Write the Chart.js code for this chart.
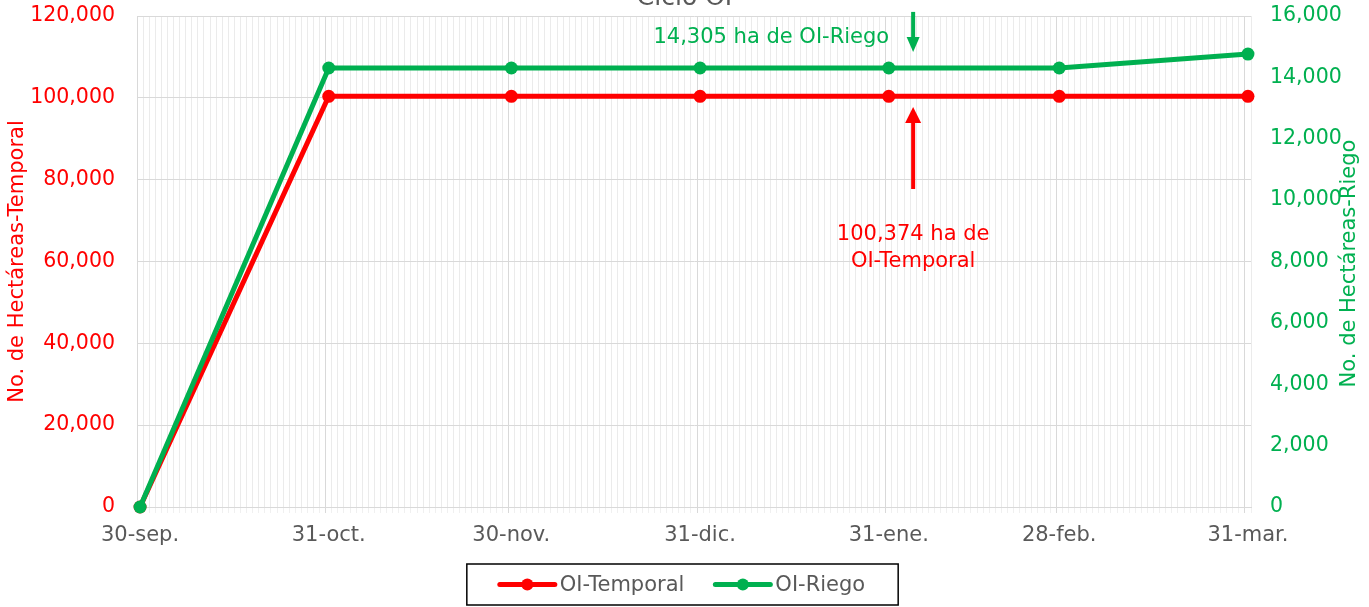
<!DOCTYPE html>
<html><head><meta charset="utf-8">
<script src="https://cdn.jsdelivr.net/npm/chart.js@4.4.0/dist/chart.umd.min.js"></script>
<style>html,body{margin:0;padding:0;background:#fff;} canvas{display:block;}</style>
</head><body>
<canvas id="c" width="1369" height="607"></canvas>
<script>
// ---- data ----
const categories = ['30-sep.','31-oct.','30-nov.','31-dic.','31-ene.','28-feb.','31-mar.'];
const dayOffsets = [0,31,61,92,123,151,182];   // days after 30-sep
const totalDays = 183;
const temporal = [0,100374,100374,100374,100374,100374,100374];
const riego = [0,14305,14305,14305,14305,14305,14760];
const seriesNames = ['OI-Temporal','OI-Riego'];
const leftRange = [0,120000,20000];
const rightRange = [0,16000,2000];
const chartTitle = 'Ciclo OI';
const leftTitle = 'No. de Hectáreas-Temporal';
const rightTitle = 'No. de Hectáreas-Riego';
const noteRiego = '14,305 ha de OI-Riego';
const noteTemporal = ['100,374 ha de','OI-Temporal'];

const FONT = 'DejaVu Sans';
const RED = '#ff0000', GREEN = '#00b050', GRAY = '#595959';
const majorDays = new Set(dayOffsets);

const fmt = v => Number(v).toLocaleString('en-US');
const noPad = s => { s.paddingTop = 0; s.paddingBottom = 0; s.paddingLeft = 0; s.paddingRight = 0; };

const decor = {
  id: 'decor',
  afterDraw(chart) {
    const ctx = chart.ctx;
    const xs = chart.scales.x, yl = chart.scales.y, yr = chart.scales.y1;
    const W = chart.width;
    ctx.save();
    // title (cut at top)
    ctx.fillStyle = GRAY;
    ctx.font = '25px "' + FONT + '"';
    ctx.textAlign = 'center';
    ctx.textBaseline = 'alphabetic';
    ctx.fillText(chartTitle, W / 2, 5);

    // axis titles
    ctx.font = '21px "' + FONT + '"';
    ctx.textBaseline = 'middle';
    ctx.save();
    ctx.translate(18, (yl.top + yl.bottom) / 2);
    ctx.rotate(-Math.PI / 2);
    ctx.fillStyle = RED;
    ctx.fillText(leftTitle, 0, 0);
    ctx.restore();
    ctx.save();
    ctx.translate(W - 19, (yr.top + yr.bottom) / 2 + 2);
    ctx.rotate(-Math.PI / 2);
    ctx.fillStyle = GREEN;
    ctx.fillText(rightTitle, 0, 0);
    ctx.restore();

    // annotations
    const ax = xs.getPixelForValue(127.5);
    ctx.fillStyle = GREEN;
    ctx.font = '21px "' + FONT + '"';
    ctx.fillText(noteRiego, xs.getPixelForValue(104.2), yr.getPixelForValue(15283));
    const gTip = yr.getPixelForValue(14830);
    ctx.strokeStyle = GREEN; ctx.lineWidth = 4;
    ctx.beginPath(); ctx.moveTo(ax, gTip - 40); ctx.lineTo(ax, gTip - 12); ctx.stroke();
    ctx.beginPath(); ctx.moveTo(ax - 6.5, gTip - 15); ctx.lineTo(ax + 6.5, gTip - 15); ctx.lineTo(ax, gTip); ctx.closePath(); ctx.fill();
    const rTip = yl.getPixelForValue(97760);
    ctx.fillStyle = RED; ctx.strokeStyle = RED;
    ctx.beginPath(); ctx.moveTo(ax, rTip + 82); ctx.lineTo(ax, rTip + 12); ctx.stroke();
    ctx.beginPath(); ctx.moveTo(ax - 8, rTip + 16); ctx.lineTo(ax + 8, rTip + 16); ctx.lineTo(ax, rTip); ctx.closePath(); ctx.fill();
    ctx.fillText(noteTemporal[0], ax, yl.getPixelForValue(66477));
    ctx.fillText(noteTemporal[1], ax, yl.getPixelForValue(59878));

    // legend
    ctx.font = '21px "' + FONT + '"';
    const ds = chart.data.datasets;
    const lineLen = 55, gap = 5, itemGap = 31, padX = 33;
    const widths = ds.map(d => ctx.measureText(d.label).width);
    let total = 0;
    widths.forEach((w, i) => { total += lineLen + gap + w + (i < widths.length - 1 ? itemGap : 0); });
    const boxW = total + padX * 2, boxH = 41;
    const boxX = W / 2 - boxW / 2 - 2, boxY = 564, cy = boxY + boxH / 2;
    ctx.strokeStyle = '#000'; ctx.lineWidth = 1.5;
    ctx.strokeRect(boxX, boxY, boxW, boxH);
    let cx = boxX + padX;
    ds.forEach((d, i) => {
      ctx.strokeStyle = d.borderColor; ctx.fillStyle = d.borderColor;
      ctx.lineWidth = 5; ctx.lineCap = 'round';
      ctx.beginPath(); ctx.moveTo(cx, cy); ctx.lineTo(cx + lineLen, cy); ctx.stroke();
      ctx.beginPath(); ctx.arc(cx + lineLen / 2, cy, 6, 0, Math.PI * 2); ctx.fill();
      ctx.lineCap = 'butt';
      ctx.fillStyle = GRAY; ctx.textAlign = 'left'; ctx.textBaseline = 'middle';
      ctx.fillText(d.label, cx + lineLen + gap, cy + 1);
      cx += lineLen + gap + widths[i] + itemGap;
    });
    ctx.restore();
  }
};

new Chart(document.getElementById('c'), {
  type: 'line',
  data: {
    datasets: [
      { label: seriesNames[0], data: dayOffsets.map((d, i) => ({ x: d + 0.5, y: temporal[i] })),
        yAxisID: 'y', borderColor: RED, backgroundColor: RED, borderWidth: 5,
        pointRadius: 6.5, pointHoverRadius: 6.5, pointBorderWidth: 0, clip: false, order: 2, tension: 0 },
      { label: seriesNames[1], data: dayOffsets.map((d, i) => ({ x: d + 0.5, y: riego[i] })),
        yAxisID: 'y1', borderColor: GREEN, backgroundColor: GREEN, borderWidth: 5,
        pointRadius: 6.5, pointHoverRadius: 6.5, pointBorderWidth: 0, clip: false, order: 1, tension: 0 }
    ]
  },
  options: {
    responsive: false, animation: false, devicePixelRatio: 1,
    layout: { padding: { top: 16, left: 0, right: 0, bottom: 0 } },
    plugins: { legend: { display: false }, tooltip: { enabled: false }, title: { display: false } },
    scales: {
      x: {
        type: 'linear', min: 0, max: totalDays,
        afterBuildTicks: s => { s.ticks = Array.from({ length: totalDays + 1 }, (_, i) => ({ value: i })); },
        afterFit: s => { s.height = 100; noPad(s); },
        ticks: {
          autoSkip: false, maxRotation: 0, minRotation: 0, labelOffset: 3, padding: 10,
          color: GRAY, font: { family: FONT, size: 21 },
          callback: v => { const i = dayOffsets.indexOf(v); return i >= 0 ? categories[i] : ''; }
        },
        grid: {
          color: c => majorDays.has(c.tick && c.tick.value) ? '#d9d9d9' : '#ebebeb',
          lineWidth: 1, drawTicks: true, tickLength: 6,
          tickColor: c => majorDays.has(c.tick && c.tick.value) ? '#d9d9d9' : '#f0f0f0'
        },
        border: { display: true, color: '#d9d9d9' }
      },
      y: {
        position: 'left', min: leftRange[0], max: leftRange[1],
        afterFit: s => { s.width = 137; noPad(s); },
        ticks: { stepSize: leftRange[2], color: RED, padding: 22, font: { family: FONT, size: 20.5 }, callback: fmt },
        grid: { color: '#d9d9d9', drawTicks: false },
        border: { display: true, color: '#d9d9d9' }
      },
      y1: {
        position: 'right', min: rightRange[0], max: rightRange[1],
        afterFit: s => { s.width = 118; noPad(s); },
        ticks: { stepSize: rightRange[2], color: GREEN, padding: 19, font: { family: FONT, size: 20.5 }, callback: fmt },
        grid: { display: false, drawTicks: false },
        border: { display: false }
      }
    }
  },
  plugins: [decor]
});
</script>
</body></html>
